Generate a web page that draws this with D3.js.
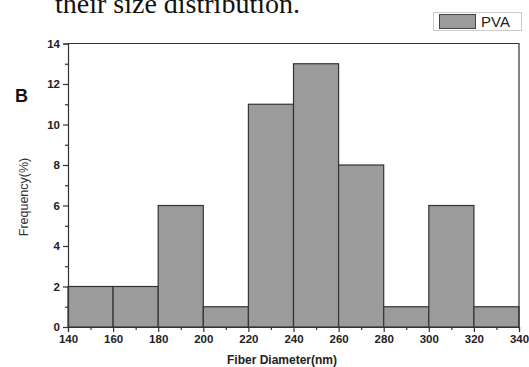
<!DOCTYPE html>
<html>
<head>
<meta charset="utf-8">
<script src="https://cdn.jsdelivr.net/npm/d3@7"></script>
<style>
  html, body { margin: 0; padding: 0; background: #fff; }
  svg { display: block; }
</style>
</head>
<body>
<div id="chart"></div>
<script>
// histogram data
const binEdges = [140, 160, 180, 200, 220, 240, 260, 280, 300, 320, 340];
const frequency = [2, 2, 6, 1, 11, 13, 8, 1, 6, 1];
const xTicks = [140, 160, 180, 200, 220, 240, 260, 280, 300, 320, 340];
const xMinor = [150, 170, 190, 210, 230, 250, 270, 290, 310, 330];
const yTicks = [0, 2, 4, 6, 8, 10, 12, 14];
const yMinor = [1, 3, 5, 7, 9, 11, 13];
const seriesName = 'PVA';

const width = 529, height = 367;
const plotLeft = 68, plotRight = 519, plotTop = 43.5, plotBottom = 327;

const svg = d3.select('#chart')
  .append('svg')
  .attr('width', width)
  .attr('height', height);

// caption fragment, cut off at the top like in the source picture
svg.append('text')
  .attr('x', 55)
  .attr('y', 13)
  .attr('font-family', '"Liberation Serif", "Times New Roman", serif')
  .attr('font-size', 28)
  .attr('fill', '#111')
  .text('their size distribution.');

const xScale = d3.scaleLinear().domain([140, 340]).range([plotLeft, plotRight]);
const yScale = d3.scaleLinear().domain([0, 14]).range([plotBottom, plotTop]);

const bins = frequency.map((f, i) => ({ x0: binEdges[i], x1: binEdges[i + 1], f }));

svg.selectAll('rect.bar')
  .data(bins)
  .enter()
  .append('rect')
  .attr('class', 'bar')
  .attr('x', d => xScale(d.x0))
  .attr('y', d => yScale(d.f))
  .attr('width', d => xScale(d.x1) - xScale(d.x0))
  .attr('height', d => yScale(0) - yScale(d.f))
  .attr('fill', '#9b9b9b')
  .attr('stroke', '#333')
  .attr('stroke-width', 1.2);

// frame (top + right)
svg.append('path')
  .attr('d', `M${plotLeft},${plotTop}H${plotRight}V${plotBottom}`)
  .attr('fill', 'none')
  .attr('stroke', '#333')
  .attr('stroke-width', 1.2);

const tickFont = '"Liberation Sans", Arial, sans-serif';

const xAxis = svg.append('g')
  .attr('transform', `translate(0, ${plotBottom})`)
  .call(d3.axisBottom(xScale).tickValues(xTicks).tickSize(5).tickPadding(3).tickFormat(d3.format('d')));
svg.append('g')
  .attr('transform', `translate(0, ${plotBottom})`)
  .call(d3.axisBottom(xScale).tickValues(xMinor).tickSize(3).tickFormat(''))
  .select('.domain').remove();

const yAxis = svg.append('g')
  .attr('transform', `translate(${plotLeft}, 0)`)
  .call(d3.axisLeft(yScale).tickValues(yTicks).tickSize(5).tickPadding(3).tickFormat(d3.format('d')));
svg.append('g')
  .attr('transform', `translate(${plotLeft}, 0)`)
  .call(d3.axisLeft(yScale).tickValues(yMinor).tickSize(3).tickFormat(''))
  .select('.domain').remove();

svg.selectAll('.tick line').attr('stroke', '#333').attr('stroke-width', 1.2);
svg.selectAll('.domain').attr('stroke', '#333').attr('stroke-width', 1.2);
[xAxis, yAxis].forEach(g => g.selectAll('text')
  .attr('font-family', tickFont)
  .attr('font-weight', 'bold')
  .attr('font-size', 11.5)
  .attr('fill', '#222'));

// axis titles
svg.append('text')
  .attr('x', 282)
  .attr('y', 364)
  .attr('text-anchor', 'middle')
  .attr('font-family', tickFont)
  .attr('font-weight', 'bold')
  .attr('font-size', 12)
  .attr('fill', '#222')
  .text('Fiber Diameter(nm)');

svg.append('text')
  .attr('transform', 'translate(28, 197) rotate(-90)')
  .attr('text-anchor', 'middle')
  .attr('font-family', tickFont)
  .attr('font-size', 12.5)
  .attr('fill', '#333')
  .text('Frequency(%)');

// panel letter
svg.append('text')
  .attr('x', 15)
  .attr('y', 102)
  .attr('font-family', tickFont)
  .attr('font-weight', 'bold')
  .attr('font-size', 18)
  .attr('fill', '#111')
  .text('B');

// legend
const legend = svg.append('g');
legend.append('rect')
  .attr('x', 433.5).attr('y', 12.5).attr('width', 88).attr('height', 18)
  .attr('fill', '#fff').attr('stroke', '#ccc');
legend.append('rect')
  .attr('x', 439.5).attr('y', 14.5).attr('width', 36).attr('height', 14)
  .attr('fill', '#9b9b9b').attr('stroke', '#444');
legend.append('text')
  .attr('x', 481).attr('y', 27)
  .attr('font-family', tickFont)
  .attr('font-size', 15)
  .attr('fill', '#222')
  .text(seriesName);
</script>
</body>
</html>
